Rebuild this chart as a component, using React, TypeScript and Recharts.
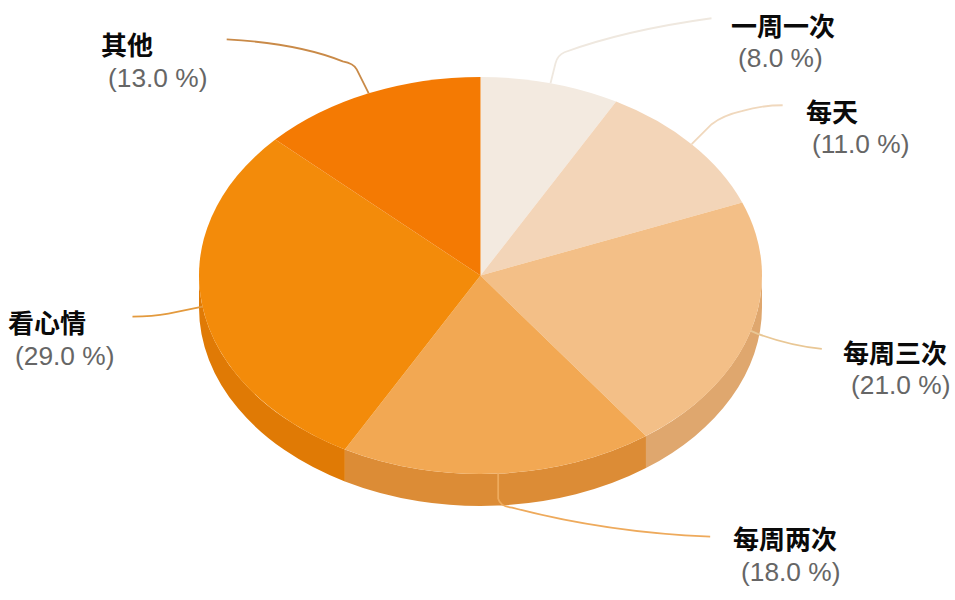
import { PieChart, Pie, Cell } from 'recharts';

const categories = ['一周一次', '每天', '每周三次', '每周两次', '看心情', '其他'];
const shares = [8, 11, 21, 18, 29, 13];

const topColors = ['#f3eae0', '#f3d5b8', '#f3bf87', '#f2a853', '#f38b0a', '#f47a03'];
const sideColors = ['#d9d0c6', '#dbbfa5', '#dfa76e', '#dc8c36', '#e07a05', '#d96c02'];
const lineColors = ['#efe8df', '#f0d8bd', '#e9c795', '#eeaa5c', '#e39a3e', '#c98a48'];

// where the two text rows start, and the leader drawn from the slice's mid point
const nameSpots = [[731, 36], [806, 122], [843, 363], [733, 549], [8, 333], [101, 55]];
const valueSpots = [[738, 67], [812, 153], [851, 394], [741, 581], [15, 365], [108, 87]];
const leaders = [
  'l 5 -20 q 2 -8 9 -11 q 60 -22 147 -34',
  'l 20 -20 q 12 -9 30 -13 q 20 -6 41 -6',
  'l 7 3 q 33 12 64 15',
  'l 0 25 q 2 8 14 9 q 95 25 198 29',
  'l -34 7 q -16 3 -36 3',
  'l -12 -24 q -3 -6 -14 -8 q -45 -18 -116 -22',
];

const table = categories.map((name, i) => ({ name, value: shares[i] }));

const CX = 480.5;
const CY = 275.5;
const RX = 281.5;
const RY = 198.5;
const DEPTH = 32;
const rad = Math.PI / 180;

const onRim = (angle: number, drop = 0) => [
  CX + RX * Math.cos(angle * rad),
  CY + drop - RY * Math.sin(angle * rad),
];

const TopSlice = (props: any) => {
  const { startAngle, endAngle, fill } = props;
  const [x1, y1] = onRim(startAngle);
  const [x2, y2] = onRim(endAngle);
  const large = Math.abs(startAngle - endAngle) > 180 ? 1 : 0;
  return <path d={`M ${CX} ${CY} L ${x1} ${y1} A ${RX} ${RY} 0 ${large} 1 ${x2} ${y2} Z`} fill={fill} stroke="none" />;
};

// only the front half of the rim can be seen
const SideSlice = (props: any) => {
  const { startAngle, endAngle, fill } = props;
  const from = Math.min(startAngle, 0);
  const to = Math.max(endAngle, -180);
  if (from <= to) return null;
  const [x1, y1] = onRim(from);
  const [x2, y2] = onRim(to);
  const [x3, y3] = onRim(to, DEPTH);
  const [x4, y4] = onRim(from, DEPTH);
  return (
    <path
      d={`M ${x1} ${y1} A ${RX} ${RY} 0 0 1 ${x2} ${y2} L ${x3} ${y3} A ${RX} ${RY} 0 0 0 ${x4} ${y4} Z`}
      fill={fill}
      stroke="none"
    />
  );
};

const SliceLabel = (props: any) => {
  const { index, midAngle, name, value } = props;
  const [ax, ay] = onRim(midAngle);
  return (
    <g>
      <path d={`M ${ax} ${ay} ${leaders[index]}`} fill="none" stroke={lineColors[index]} strokeWidth={1.8} />
      <text
        x={nameSpots[index][0]}
        y={nameSpots[index][1]}
        fontFamily="'Noto Sans CJK SC'"
        fontWeight={700}
        fontSize={26}
        fill="#0a0a0a"
      >
        {name}
      </text>
      <text
        x={valueSpots[index][0]}
        y={valueSpots[index][1]}
        fontFamily="'Liberation Sans'"
        fontSize={26.3}
        fill="#666666"
      >
        {`(${value.toFixed(1)} %)`}
      </text>
    </g>
  );
};

export default function App() {
  return (
    <div style={{ position: 'absolute', left: 0, top: 0, width: 955, height: 600, background: '#fff' }}>
      <PieChart width={955} height={600} margin={{ top: 0, right: 0, bottom: 0, left: 0 }}>
        <Pie
          data={table}
          dataKey="value"
          nameKey="name"
          cx={CX}
          cy={CY}
          outerRadius={RX}
          startAngle={90}
          endAngle={-270}
          shape={SideSlice}
          isAnimationActive={false}
        >
          {table.map((d, i) => (
            <Cell key={d.name} fill={sideColors[i]} />
          ))}
        </Pie>
        <Pie
          data={table}
          dataKey="value"
          nameKey="name"
          cx={CX}
          cy={CY}
          outerRadius={RX}
          startAngle={90}
          endAngle={-270}
          shape={TopSlice}
          label={SliceLabel}
          labelLine={false}
          isAnimationActive={false}
        >
          {table.map((d, i) => (
            <Cell key={d.name} fill={topColors[i]} />
          ))}
        </Pie>
      </PieChart>
    </div>
  );
}
